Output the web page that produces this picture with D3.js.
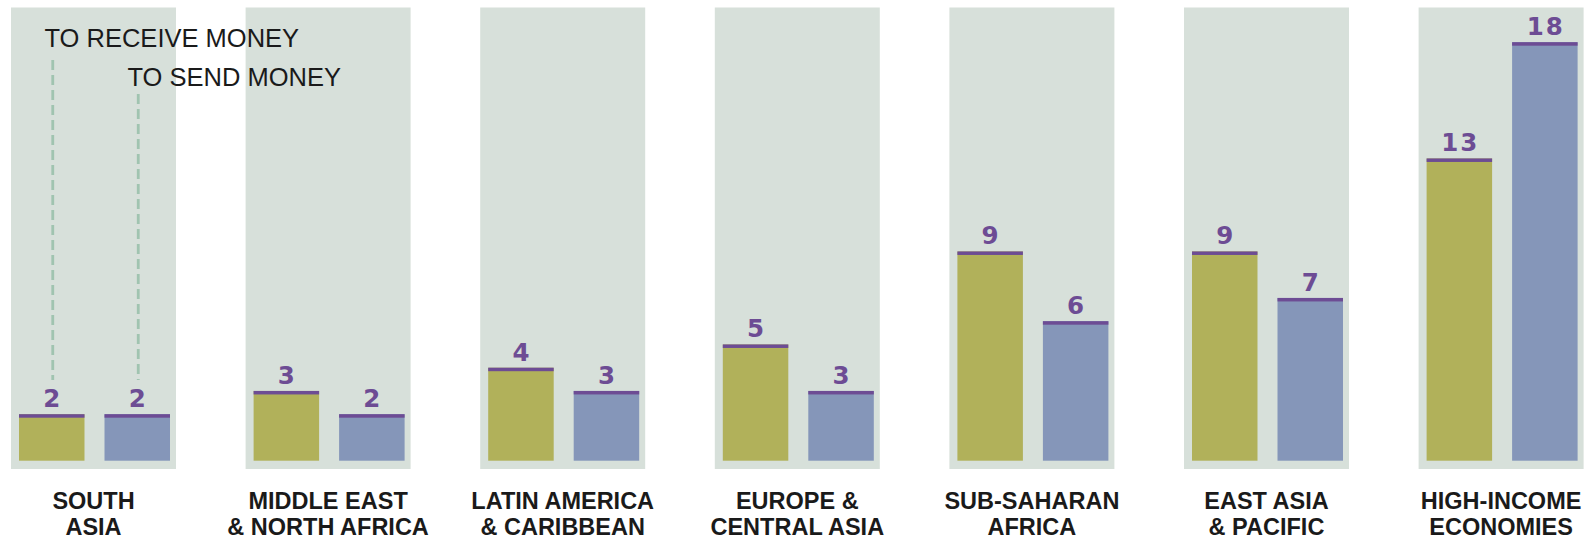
<!DOCTYPE html>
<html><head><meta charset="utf-8">
<script src="https://cdn.jsdelivr.net/npm/d3@7"></script>
<style>body{margin:0;background:#fff;} svg{display:block;}</style>
</head><body>
<script>
const categories = [["SOUTH","ASIA"],["MIDDLE EAST","& NORTH AFRICA"],["LATIN AMERICA","& CARIBBEAN"],["EUROPE &","CENTRAL ASIA"],["SUB-SAHARAN","AFRICA"],["EAST ASIA","& PACIFIC"],["HIGH-INCOME","ECONOMIES"]];
const receive = [2,3,4,5,9,9,13];
const send = [2,2,3,3,6,7,18];
const seriesNames = ["TO RECEIVE MONEY","TO SEND MONEY"];

const W=1594,H=540;
const svg=d3.select("body").append("svg").attr("width",W).attr("height",H);
const x=d3.scaleBand().domain(d3.range(categories.length)).range([11,11+6*234.6+165]).paddingInner(69.6/234.6).paddingOuter(0);
const y=d3.scaleLinear().domain([0,18]).range([460.7,42.2]);
const inner=d3.scaleBand().domain([0,1]).range([8,159]).paddingInner(20/85.5).paddingOuter(0);
const colors=["#b1b15a","#8596b9"];
const g=svg.selectAll("g.cat").data(categories).join("g").attr("class","cat")
  .attr("transform",(d,i)=>`translate(${x(i)},0)`);
g.append("rect").attr("x",0).attr("y",7.5).attr("width",x.bandwidth()).attr("height",469-7.5).attr("fill","#d7e0da");

// dashed annotation lines
const dashTop=[60,94];
[0,1].forEach(k=>{
  const cx=x(0)+inner(k)+inner.bandwidth()/2+1;
  svg.append("line").attr("x1",cx).attr("x2",cx)
    .attr("y1",dashTop[k]).attr("y2",380).attr("stroke","#a0c4b0").attr("stroke-width",2.8).attr("stroke-dasharray","10,5");
});

g.each(function(d,i){
  const vals=[receive[i],send[i]];
  const sel=d3.select(this);
  vals.forEach((v,k)=>{
    sel.append("rect").attr("x",inner(k)).attr("width",inner.bandwidth()).attr("y",y(v)).attr("height",y(0)-y(v)).attr("fill",colors[k]);
    sel.append("rect").attr("x",inner(k)).attr("width",inner.bandwidth()).attr("y",y(v)).attr("height",3.5).attr("fill","#6d4c94");
    sel.append("text").attr("x",inner(k)+inner.bandwidth()/2+1).attr("y",y(v)-7).attr("text-anchor","middle")
      .attr("font-family","DejaVu Sans").attr("font-weight","bold").attr("font-size",24.5).attr("letter-spacing",2)
      .attr("fill","#6d4c94").text(v);
  });
  const t=sel.append("text").attr("text-anchor","middle").attr("font-family","Liberation Sans, Arial").attr("font-weight","bold")
    .attr("font-size",23.5).attr("fill","#1a1a1a");
  d.forEach((line,j)=>t.append("tspan").attr("x",x.bandwidth()/2).attr("y",509+26*j).text(line));
});

svg.append("text").attr("x",44.5).attr("y",47.3).attr("font-family","Liberation Sans, Arial").attr("font-size",25.5).attr("fill","#1a1a1a").text(seriesNames[0]);
svg.append("text").attr("x",127.5).attr("y",86).attr("font-family","Liberation Sans, Arial").attr("font-size",25.5).attr("fill","#1a1a1a").text(seriesNames[1]);
</script>
</body></html>
